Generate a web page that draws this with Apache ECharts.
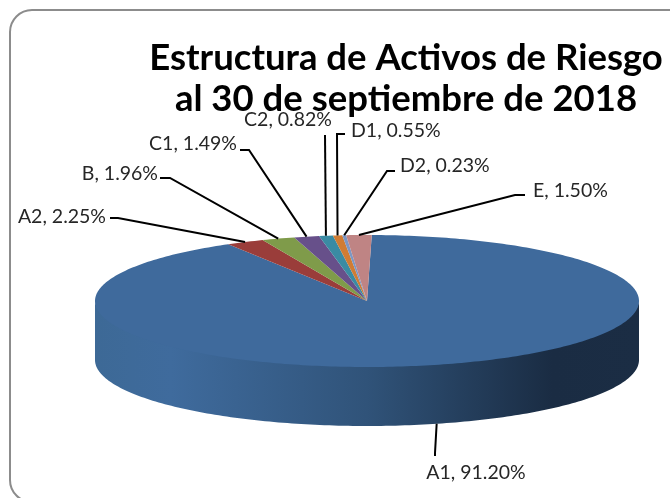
<!DOCTYPE html>
<html><head><meta charset="utf-8">
<style>html,body{margin:0;padding:0;background:#fff}#c{width:670px;height:498px}</style>
<script src="https://cdn.jsdelivr.net/npm/echarts@6/dist/echarts.min.js"></script>
</head><body><div id="c"></div>
<script>
const categories = ['A1','A2','B','C1','C2','D1','D2','E'];
const values = [91.20,2.25,1.96,1.49,0.82,0.55,0.23,1.50];
const valueLabels = ['91.20%','2.25%','1.96%','1.49%','0.82%','0.55%','0.23%','1.50%'];
const titleText = 'Estructura de Activos de Riesgo\nal 30 de septiembre de 2018';
const colors = ['#3f6a9c','#9a3d3a','#7f9b4a','#67508a','#3a8ba3','#d07c33','#7c97c4','#bf8484'];
// layout of the leader lines: knee point, end point, label anchor
const knees = [[435,453],[118,218],[170,178],[249,150],[325,135],[337,134],[387,171],[515,195]];
const ends  = [[435,456],[110,218],[160,178],[240,150],[325,135],[345,134],[395,171],[525,195]];
const labelAt = [[476,473,'center'],[106,217,'right'],[158,174,'right'],[237,144,'right'],[288,120,'center'],[351,131,'left'],[400,166,'left'],[533,191,'left']];
const CX=367, CY=301, RX=272, RY=66, DEPTH=59, START=1;
const total = values.reduce((a,b)=>a+b,0);
const startAngles = []; let acc = START;
values.forEach(v=>{startAngles.push(acc); acc += v/total*360;});
const pt=(deg,dy=0)=>{const t=deg*Math.PI/180;return [CX+RX*Math.sin(t),CY-RY*Math.cos(t)+dy];};
function arc(a,b,dy=0){const n=Math.max(2,Math.ceil(Math.abs(b-a)));const o=[];for(let i=0;i<=n;i++)o.push(pt(a+(b-a)*i/n,dy));return o;}
const FONT='Lato, Carlito, Calibri, sans-serif';
function renderItem(params,api){
  const i=params.dataIndex, v=api.value(0), a=startAngles[i], b=a+v/total*360, kids=[];
  const fa=Math.max(a,90), fb=Math.min(b,270);
  if(fb>fa){
    kids.push({type:'polygon',z2:1,shape:{points:arc(fa,fb,-1.5).concat(arc(fb,fa,DEPTH))},
      style:{fill:new echarts.graphic.LinearGradient(CX-RX,0,CX+RX,0,[
        {offset:0,color:'#3d6996'},{offset:0.14,color:'#3f6b9d'},{offset:0.5,color:'#305379'},
        {offset:0.84,color:'#1a2c43'},{offset:1,color:'#1b2d44'}],true)}});
  }
  kids.push({type:'polygon',z2:2,shape:{points:[[CX,CY]].concat(arc(a,b))},style:{fill:colors[i]}});
  const mid=(a+b)/2, s=pt(mid,mid>90&&mid<270?DEPTH:0);
  kids.push({type:'polyline',z2:3,shape:{points:[s,knees[i],ends[i]]},style:{stroke:'#000',lineWidth:2,fill:null}});
  kids.push({type:'text',z2:4,style:{text:categories[i]+', '+valueLabels[i],x:labelAt[i][0],y:labelAt[i][1],
    align:labelAt[i][2],verticalAlign:'middle',fontSize:19.5,fontFamily:FONT,fill:'#262626'}});
  return {type:'group',children:kids};
}
const chart=echarts.init(document.getElementById('c'),null,{renderer:'canvas'});
chart.setOption({
  animation:false,backgroundColor:'#fff',
  graphic:[{type:'rect',silent:true,z:-1,shape:{x:10,y:10,width:700,height:492,r:22},style:{fill:'#fff',stroke:'#8c8c8c',lineWidth:2}}],
  title:{text:titleText,left:401,top:33,textAlign:'center',
    textStyle:{fontFamily:FONT,fontWeight:'bold',fontSize:36.5,lineHeight:41,color:'#000'}},
  series:[{type:'custom',coordinateSystem:'none',silent:true,clip:false,renderItem,
    data:values.map((v,i)=>({name:categories[i],value:[v]}))}]
});
</script></body></html>
